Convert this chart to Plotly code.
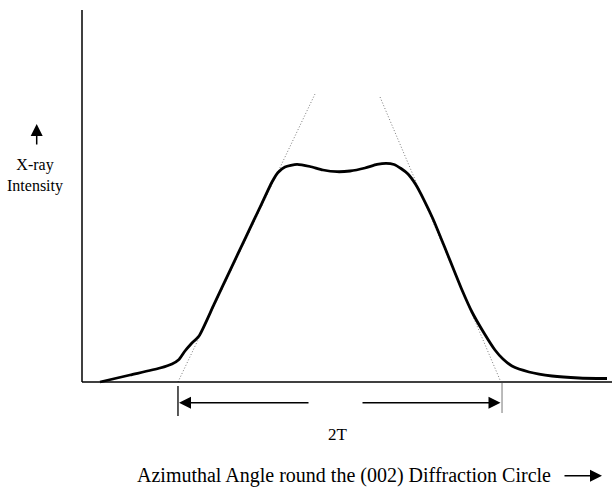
import plotly.graph_objects as go

# ---- data (azimuthal angle in arbitrary units 0-100, intensity in arbitrary units 0-100) ----
angle = [3.40, 9.06, 14.72, 16.98, 18.30, 19.43, 20.57, 22.08, 24.91, 27.92, 30.94, 33.96,
         35.85, 36.98, 38.30, 40.57, 43.02, 45.47, 48.11, 50.57, 53.40, 55.66, 57.36,
         58.87, 60.19, 61.51, 63.02, 64.53, 66.23, 68.87, 71.70, 73.58, 75.85, 77.92,
         79.43, 81.13, 84.34, 88.68, 93.77, 99.06]
intensity = [0.00, 1.88, 3.76, 4.84, 6.05, 8.33, 10.22, 12.37, 20.86, 29.95, 39.03, 48.09,
             53.76, 56.32, 57.80, 58.52, 57.93, 56.99, 56.53, 56.72, 57.53, 58.47, 58.79,
             58.47, 57.39, 55.91, 52.96, 48.92, 43.82, 34.68, 24.73, 18.82, 13.17, 8.60,
             6.18, 4.30, 2.69, 1.61, 1.08, 0.94]

tangent_left_angle = [18.11, 43.96]
tangent_left_intensity = [0.0, 77.42]
tangent_right_angle = [56.23, 78.87]
tangent_right_intensity = [76.61, 0.54]

width_left = 18.11     # left edge of 2T
width_right = 79.25    # right edge of 2T

# ---- geometry of the drawing area (pixels) ----
W, H = 612, 487
ORIGIN_X, ORIGIN_Y = 82, 382
PX_PER_X = 5.3
PX_PER_Y = 3.72

def X(px):
    return (px - ORIGIN_X) / PX_PER_X

def Y(py):
    return (ORIGIN_Y - py) / PX_PER_Y

FONT = "Liberation Serif, Times New Roman, serif"

fig = go.Figure()

# tangent lines
for tx, ty in ((tangent_left_angle, tangent_left_intensity),
               (tangent_right_angle, tangent_right_intensity)):
    fig.add_trace(go.Scatter(x=tx, y=ty, mode="lines",
                             line=dict(color="#7a7a7a", width=1, dash="1px,2px"),
                             hoverinfo="skip"))
# main profile
fig.add_trace(go.Scatter(x=angle, y=intensity, mode="lines",
                         line=dict(color="black", width=2.8, shape="spline", smoothing=0.6),
                         hoverinfo="skip"))

shapes = [
    # axes
    dict(type="line", x0=0, y0=0, x1=0, y1=100, line=dict(color="black", width=1.5)),
    dict(type="line", x0=0, y0=0, x1=X(W), y1=0, line=dict(color="black", width=1.5)),
    # 2T guides
    dict(type="line", x0=width_left, y0=Y(386), x1=width_left, y1=Y(416),
         line=dict(color="black", width=1.3)),
    dict(type="line", x0=width_right, y0=Y(383), x1=width_right, y1=Y(413),
         line=dict(color="#777777", width=1)),
]

arrow_common = dict(showarrow=True, arrowhead=2, arrowsize=1.6, arrowwidth=1.5,
                    arrowcolor="black", xref="x", yref="y", axref="x", ayref="y", text="",
                    font=dict(size=1), borderpad=0, standoff=0, startstandoff=0)
ybr = Y(402.8)
annotations = [
    dict(x=X(179), y=ybr, ax=X(309), ay=ybr, **arrow_common),
    dict(x=X(500.5), y=ybr, ax=X(362), ay=ybr, **arrow_common),
    dict(x=X(602), y=Y(475.7), ax=X(564), ay=Y(475.7), **arrow_common),
    dict(x=X(36.7), y=Y(124), ax=X(36.7), ay=Y(145), **arrow_common),
    dict(x=(width_left + width_right) / 2 - 0.3, y=Y(434), text="2T", showarrow=False,
         xref="x", yref="y", font=dict(family=FONT, size=17, color="black")),
    dict(x=X(343.5), y=Y(475.7), text="Azimuthal Angle round the (002) Diffraction Circle",
         showarrow=False, xref="x", yref="y", font=dict(family=FONT, size=20, color="black")),
    dict(x=X(35), y=Y(175), text="X-ray<br>Intensity", showarrow=False, xref="x", yref="y",
         font=dict(family=FONT, size=16, color="black")),
]

fig.update_layout(
    width=W, height=H,
    margin=dict(l=0, r=0, t=0, b=0),
    paper_bgcolor="white", plot_bgcolor="white",
    showlegend=False,
    xaxis=dict(range=[X(0), X(W)], visible=False, fixedrange=True),
    yaxis=dict(range=[Y(H), Y(0)], visible=False, fixedrange=True),
    shapes=shapes, annotations=annotations,
)

fig.write_html("out.html")
